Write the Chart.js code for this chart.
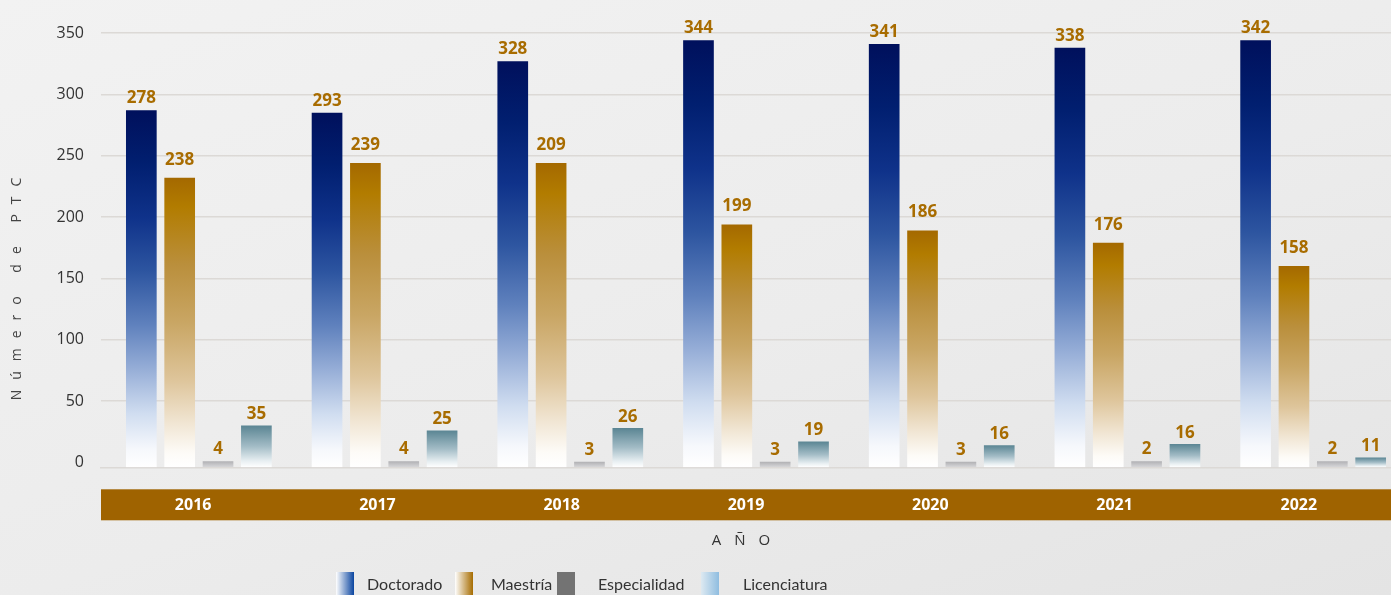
<!DOCTYPE html>
<html>
<head>
<meta charset="utf-8">
<script src="https://cdn.jsdelivr.net/npm/chart.js@4"></script>
<style>
  html, body { margin: 0; padding: 0; }
  body {
    width: 1391px; height: 595px; overflow: hidden;
    background: linear-gradient(160deg, #f2f2f2 0%, #ececec 55%, #e4e4e4 100%);
  }
  canvas { display: block; }
</style>
</head>
<body>
<canvas id="myChart" width="1391" height="595"></canvas>
<script>
// bar heights as drawn in the picture
const years = ['2016', '2017', '2018', '2019', '2020', '2021', '2022'];
const doctorado = [287, 285, 327, 344, 341, 338, 344];
const maestria = [232, 244, 244, 194, 189, 179, 160];
const especialidad = [1, 1, 0.5, 0.5, 0.5, 1, 1];
const licenciatura = [30, 26, 28, 17, 14, 15, 4];

// numbers printed above the bars
const doctoradoLabels = [278, 293, 328, 344, 341, 338, 342];
const maestriaLabels = [238, 239, 209, 199, 186, 176, 158];
const especialidadLabels = [4, 4, 3, 3, 3, 2, 2];
const licenciaturaLabels = [35, 25, 26, 19, 16, 16, 11];

const yTicks = [0, 50, 100, 150, 200, 250, 300, 350];

const FONT = "'Open Sans', 'Noto Sans', sans-serif";
const LEGEND_FONT = "Lato, 'Open Sans', sans-serif";
const BASE = -4;
const gridColor = '#dcd9d6';

const stops = {
  doctorado: [[0, '#00105c'], [0.15, '#011f70'], [0.3, '#0f328a'], [0.45, '#2d55a0'], [0.6, '#5f81bd'],
              [0.72, '#94acd6'], [0.85, '#d0ddf0'], [0.95, '#f6f8fc'], [1, '#ffffff']],
  maestria: [[0, '#a46900'], [0.1, '#b27c00'], [0.3, '#ba8f3c'], [0.5, '#c9a664'], [0.7, '#dec59b'],
             [0.85, '#f1e6d4'], [0.95, '#fdfbf7'], [1, '#ffffff']],
  especialidad: [[0, '#b0b0b3'], [1, '#d8d8da']],
  licenciatura: [[0, '#5a8593'], [0.5, '#a3bcc6'], [0.85, '#e8eff2'], [1, '#ffffff']]
};

const barGradient = (list, fallback) => (c) => {
  const chart = c.chart;
  if (c.type !== 'data' || !chart.chartArea) return fallback;
  const y = chart.scales.y;
  const top = y.getPixelForValue(c.raw);
  const bottom = y.getPixelForValue(BASE);
  const g = chart.ctx.createLinearGradient(0, top, 0, bottom);
  list.forEach(s => g.addColorStop(s[0], s[1]));
  return g;
};

function drawSpaced(ctx, text, cx, cy, spacing) {
  const chars = [...text];
  const widths = chars.map(ch => ctx.measureText(ch).width);
  const total = widths.reduce((a, b) => a + b, 0) + spacing * (chars.length - 1);
  let x = cx - total / 2;
  ctx.textAlign = 'left';
  chars.forEach((ch, i) => {
    ctx.fillText(ch, x, cy);
    x += widths[i] + spacing;
  });
}

// bars sit on a slightly wider band than the year strip
const barAxisPlugin = {
  id: 'barAxis',
  afterLayout(chart) {
    const xb = chart.scales.xb;
    const area = chart.chartArea;
    xb.left = area.left + 5;
    xb.right = area.right + 15;
    xb.width = xb.right - xb.left;
    xb.configure();
  }
};

const decorPlugin = {
  id: 'decor',
  beforeDraw(chart) {
    const ctx = chart.ctx;
    const x = chart.scales.x;
    ctx.save();
    ctx.fillStyle = '#9f6300';
    ctx.fillRect(x.left, chart.chartArea.bottom + 22, x.right - x.left, 31);
    ctx.restore();
  },
  afterDatasetsDraw(chart, args, opts) {
    const ctx = chart.ctx;
    ctx.save();
    ctx.font = `bold 17px ${FONT}`;
    ctx.fillStyle = '#a86c00';
    ctx.textAlign = 'center';
    ctx.textBaseline = 'middle';
    chart.data.datasets.forEach((ds, i) => {
      const meta = chart.getDatasetMeta(i);
      meta.data.forEach((bar, j) => {
        ctx.fillText(String(ds.printed[j]), bar.x, bar.y - opts.lift[i]);
      });
    });
    ctx.restore();
  },
  afterDraw(chart) {
    const ctx = chart.ctx;
    const area = chart.chartArea;
    ctx.save();
    ctx.textBaseline = 'middle';
    // axis titles
    ctx.fillStyle = '#333';
    ctx.font = `15px ${FONT}`;
    drawSpaced(ctx, 'AÑO', (area.left + area.right) / 2 - 5, 541, 13);
    ctx.save();
    ctx.translate(17, 289);
    ctx.rotate(-Math.PI / 2);
    ctx.fillStyle = '#444';
    ctx.font = `14px ${FONT}`;
    drawSpaced(ctx, 'Número de PTC', 0, 0, 10);
    ctx.restore();

    // legend
    const boxX = [336, 455, 557, 701];
    const textX = [367, 491, 598, 743];
    const fills = [
      ['#ffffff', '#0a45a0'],
      ['#ffffff', '#a66c00'],
      ['#737373', '#737373'],
      ['#dde9f1', '#8fbde0']
    ];
    ctx.font = `16px ${LEGEND_FONT}`;
    chart.data.datasets.forEach((ds, i) => {
      const g = ctx.createLinearGradient(boxX[i], 0, boxX[i] + 18, 0);
      g.addColorStop(0, fills[i][0]);
      g.addColorStop(1, fills[i][1]);
      ctx.fillStyle = g;
      ctx.fillRect(boxX[i], 572, 18, 30);
      ctx.fillStyle = '#333';
      ctx.textAlign = 'left';
      ctx.fillText(ds.label, textX[i], 585);
    });
    ctx.restore();
  }
};

const ctx = document.getElementById('myChart');
const myChart = new Chart(ctx, {
  type: 'bar',
  data: {
    labels: years,
    datasets: [
      { label: 'Doctorado', data: doctorado, printed: doctoradoLabels,
        backgroundColor: barGradient(stops.doctorado, '#1a3d8f') },
      { label: 'Maestría', data: maestria, printed: maestriaLabels,
        backgroundColor: barGradient(stops.maestria, '#b8893a') },
      { label: 'Especialidad', data: especialidad, printed: especialidadLabels,
        backgroundColor: barGradient(stops.especialidad, '#c4c4c6') },
      { label: 'Licenciatura', data: licenciatura, printed: licenciaturaLabels,
        backgroundColor: barGradient(stops.licenciatura, '#8aa9b4') }
    ].map(ds => Object.assign(ds, { xAxisID: 'xb', base: BASE, borderWidth: 0 }))
  },
  plugins: [barAxisPlugin, decorPlugin],
  options: {
    responsive: false,
    animation: false,
    devicePixelRatio: 1,
    categoryPercentage: 0.826,
    barPercentage: 0.8,
    layout: { padding: { top: 33, left: 0, right: 0, bottom: 0 } },
    plugins: {
      legend: { display: false },
      tooltip: { enabled: false },
      decor: { lift: [12, 18, 12, 11] }
    },
    scales: {
      xb: {
        type: 'category',
        display: false,
        offset: true
      },
      x: {
        type: 'category',
        position: 'bottom',
        offset: true,
        grid: { display: false, drawTicks: false },
        border: { display: true, color: gridColor, width: 1.5 },
        ticks: {
          color: '#ffffff',
          font: { family: FONT, size: 16, weight: 'bold' },
          padding: 29,
          maxRotation: 0
        },
        afterFit: (scale) => { scale.height = 127.7; }
      },
      y: {
        min: BASE,
        max: 350,
        afterBuildTicks: (scale) => { scale.ticks = yTicks.map(v => ({ value: v })); },
        grid: {
          drawTicks: false,
          lineWidth: 1.5,
          color: (c) => (c.tick && c.tick.value === 0 ? 'rgba(0,0,0,0)' : gridColor)
        },
        border: { display: false },
        ticks: {
          color: '#333',
          font: { family: FONT, size: 16 },
          padding: 17
        },
        afterFit: (scale) => { scale.width = 101; }
      }
    }
  }
});
</script>
</body>
</html>
